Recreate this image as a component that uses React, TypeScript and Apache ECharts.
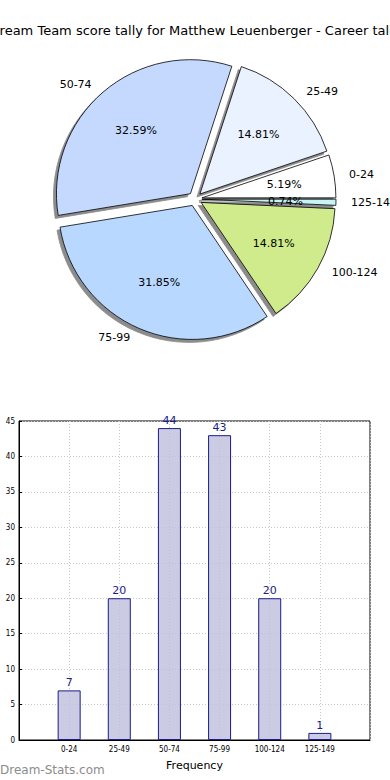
import React, { useEffect, useRef } from "react";
import * as echarts from "echarts";

const categories = ["0-24", "25-49", "50-74", "75-99", "100-124", "125-149"];
const counts = [7, 20, 44, 43, 20, 1];
const sliceColors = ["#ffffff", "#eaf1ff", "#c5d9ff", "#b8d8ff", "#cfeb8c", "#c8f4f8"];
const yTicks = [0, 5, 10, 15, 20, 25, 30, 35, 40, 45];
const titleText = "Dream Team score tally for Matthew Leuenberger - Career tally";

export default function App() {
  const ref = useRef<HTMLDivElement>(null);
  useEffect(() => {
    if (!ref.current) return;
    const chart = echarts.init(ref.current, null, { renderer: "svg" });
    const font = "DejaVu Sans";
    const pieCenter = [195, 199];
    const R = 134;
    const total = counts.reduce((a, b) => a + b, 0);
    const pieData = categories.map((c, i) => ({
      name: c,
      value: counts[i],
      selected: true,
      itemStyle: { color: sliceColors[i] },
    }));
    const pieDataLabels = categories.map((c, i) => ({
      name: c,
      value: counts[i],
      selected: true,
    }));
    chart.setOption({
      animation: false,
      backgroundColor: "#ffffff",
      graphic: [
        {
          type: "text",
          x: 195,
          y: 30,
          style: {
            text: titleText,
            font: `13px ${font}`,
            fill: "#000",
            textAlign: "center",
            textVerticalAlign: "middle",
          },
        },
        {
          type: "text",
          x: 0,
          y: 770,
          style: {
            text: "Dream-Stats.com",
            font: `12px ${font}`,
            fill: "#8c8c8c",
            textAlign: "left",
            textVerticalAlign: "middle",
          },
        },
      ],
      grid: {
        left: 19,
        right: 20,
        top: 421,
        bottom: 40,
        show: true,
        borderColor: "#000",
        borderWidth: 1,
        backgroundColor: "transparent",
      },
      xAxis: {
        type: "value",
        min: -1,
        max: 6,
        interval: 1,
        name: "Frequency",
        nameLocation: "middle",
        nameGap: 20,
        nameTextStyle: { fontFamily: font, fontSize: 11, color: "#000" },
        axisLine: { show: true, onZero: false, lineStyle: { color: "#000" } },
        axisTick: { show: false },
        axisLabel: {
          fontFamily: "DejaVu Sans Condensed, DejaVu Sans",
          fontSize: 8,
          color: "#000",
          margin: 5,
          formatter: (v: number) => (v >= 0 && v < categories.length ? categories[v] : ""),
        },
        splitLine: { show: true, lineStyle: { color: "#c8c8c8", type: [1, 2] } },
      },
      yAxis: {
        type: "value",
        min: 0,
        max: 45,
        interval: 5,
        axisLine: { show: true, onZero: false, lineStyle: { color: "#000" } },
        axisTick: { show: true, inside: true, length: 3, lineStyle: { color: "#000" } },
        axisLabel: {
          fontFamily: "DejaVu Sans Condensed, DejaVu Sans",
          fontSize: 8,
          color: "#000",
          margin: 4,
          formatter: (v: number) => (yTicks.includes(v) ? String(v) : ""),
        },
        splitLine: { show: true, lineStyle: { color: "#c8c8c8", type: [1, 2] } },
      },
      series: [
        {
          type: "bar",
          data: counts.map((v, i) => [i, v]),
          barWidth: 23,
          itemStyle: {
            color: "rgba(190,190,220,0.8)",
            borderColor: "#1c1c8a",
            borderWidth: 1,
          },
          label: {
            show: true,
            position: "top",
            distance: 2,
            fontFamily: font,
            fontSize: 11,
            color: "#1c1c8a",
          },
        },
        {
          type: "pie",
          center: pieCenter,
          radius: [0, R],
          startAngle: 0,
          clockwise: false,
          selectedMode: "multiple",
          selectedOffset: 7,
          avoidLabelOverlap: false,
          data: pieData,
          itemStyle: {
            borderColor: "#000",
            borderWidth: 0.8,
            shadowColor: "rgba(0,0,0,0.45)",
            shadowOffsetX: -3,
            shadowOffsetY: 3,
            shadowBlur: 1,
          },
          emphasis: { disabled: true },
          label: {
            show: true,
            position: "outside",
            formatter: "{b}",
            fontFamily: font,
            fontSize: 11,
            color: "#000",
          },
          labelLine: { show: false, length: 10, length2: 0 },
        },
        {
          type: "pie",
          center: pieCenter,
          radius: [R * 0.2, R],
          startAngle: 0,
          clockwise: false,
          selectedMode: "multiple",
          selectedOffset: 7,
          avoidLabelOverlap: false,
          silent: true,
          data: pieDataLabels,
          itemStyle: { color: "transparent", borderWidth: 0 },
          emphasis: { disabled: true },
          label: {
            show: true,
            position: "inside",
            formatter: (p: any) => ((p.value / total) * 100).toFixed(2) + "%",
            fontFamily: font,
            fontSize: 11,
            color: "#000",
          },
          labelLine: { show: false },
        },
      ],
    });
    return () => chart.dispose();
  }, []);
  return (
    <div
      ref={ref}
      style={{ position: "fixed", left: 0, top: 0, width: 390, height: 780 }}
    />
  );
}
